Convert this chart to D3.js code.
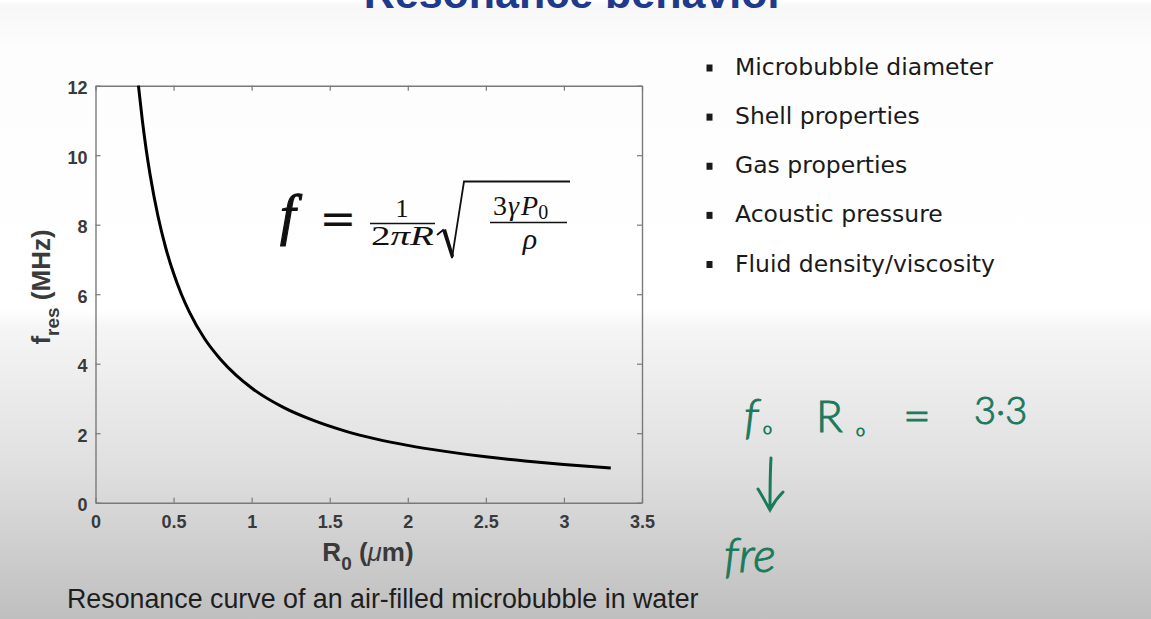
<!DOCTYPE html>
<html>
<head>
<meta charset="utf-8">
<script src="https://cdn.jsdelivr.net/npm/d3@7"></script>
<style>
  html, body { margin: 0; padding: 0; background: #ffffff; }
  svg { display: block; }
</style>
</head>
<body>
<svg id="chart" width="1151" height="619"></svg>
<script>
// ---------------- data ----------------
const xTicks = [0, 0.5, 1, 1.5, 2, 2.5, 3, 3.5];
const yTicks = [0, 2, 4, 6, 8, 10, 12];
const xTickLabels = ["0", "0.5", "1", "1.5", "2", "2.5", "3", "3.5"];
const yTickLabels = ["0", "2", "4", "6", "8", "10", "12"];
// resonance curve: R0 (um) vs f_res (MHz)
const radius = [0.275, 0.3, 0.325, 0.35, 0.4, 0.45, 0.5, 0.55, 0.6, 0.7, 0.8, 0.9, 1.0, 1.2, 1.4, 1.6, 1.8, 2.0, 2.25, 2.5, 2.75, 3.0, 3.3];
const fres   = [12.0, 11.0, 10.15, 9.43, 8.25, 7.33, 6.6, 6.0, 5.5, 4.71, 4.13, 3.67, 3.3, 2.75, 2.36, 2.06, 1.83, 1.65, 1.47, 1.32, 1.2, 1.1, 1.0];
const bullets = ["Microbubble diameter", "Shell properties", "Gas properties", "Acoustic pressure", "Fluid density/viscosity"];
const titleText = "Resonance behavior";
const captionText = "Resonance curve of an air-filled microbubble in water";

// ---------------- setup ----------------
const svg = d3.select("#chart");
const W = 1151, H = 619;

const defs = svg.append("defs");
const bg = defs.append("linearGradient").attr("id", "bg").attr("x1", 0).attr("y1", 0).attr("x2", 0).attr("y2", 1);
bg.append("stop").attr("offset", 0).attr("stop-color", "#ffffff");
bg.append("stop").attr("offset", 0.01).attr("stop-color", "#f7f7f7");
bg.append("stop").attr("offset", 0.08).attr("stop-color", "#fdfdfd");
bg.append("stop").attr("offset", 0.5).attr("stop-color", "#ffffff");
bg.append("stop").attr("offset", 0.53).attr("stop-color", "#f5f5f5");
bg.append("stop").attr("offset", 0.75).attr("stop-color", "#e0e0e0");
bg.append("stop").attr("offset", 1).attr("stop-color", "#bfbfbf");
svg.append("rect").attr("width", W).attr("height", H).attr("fill", "url(#bg)");

// title (cut off at top, as in the source)
svg.append("text")
  .attr("x", 574).attr("y", 7.5)
  .attr("text-anchor", "middle")
  .attr("font-family", "Liberation Sans, Arial, sans-serif")
  .attr("font-weight", "bold")
  .attr("font-size", 43)
  .attr("fill", "#1f3a8c")
  .text(titleText);

// ---------------- plot ----------------
const x = d3.scaleLinear().domain([0, 3.5]).range([95.5, 642]);
const y = d3.scaleLinear().domain([0, 12]).range([502.7, 85.7]);
const axisColor = "#7a7a7a";
const labelColor = "#3a3a3a";
const axFont = "Liberation Sans, Arial, sans-serif";

function styleAxis(g, hideLabels) {
  g.attr("font-size", null).attr("font-family", null);
  g.select(".domain").attr("stroke", axisColor).attr("stroke-width", 1.4);
  g.selectAll(".tick line").attr("stroke", axisColor).attr("stroke-width", 1.2);
  g.selectAll(".tick text")
    .attr("fill", labelColor)
    .attr("font-family", axFont)
    .attr("font-weight", "bold")
    .attr("font-size", 18);
  if (hideLabels) g.selectAll(".tick text").remove();
}

const gx = svg.append("g").attr("transform", `translate(0,${y(0)})`)
  .call(d3.axisBottom(x).tickValues(xTicks).tickFormat((d, i) => xTickLabels[i])
    .tickSizeInner(-5).tickSizeOuter(0).tickPadding(13));
styleAxis(gx, false);

const gxt = svg.append("g").attr("transform", `translate(0,${y(12)})`)
  .call(d3.axisTop(x).tickValues(xTicks).tickSizeInner(-5).tickSizeOuter(0));
styleAxis(gxt, true);

const gy = svg.append("g").attr("transform", `translate(${x(0)},0)`)
  .call(d3.axisLeft(y).tickValues(yTicks).tickFormat((d, i) => yTickLabels[i])
    .tickSizeInner(-5).tickSizeOuter(0).tickPadding(8));
styleAxis(gy, false);
gy.selectAll(".tick text").attr("dy", "0.45em");

const gyr = svg.append("g").attr("transform", `translate(${x(3.5)},0)`)
  .call(d3.axisRight(y).tickValues(yTicks).tickSizeInner(-5).tickSizeOuter(0));
styleAxis(gyr, true);

// curve
const pts = radius.map((r, i) => [r, fres[i]]);
svg.append("path")
  .datum(pts)
  .attr("fill", "none")
  .attr("stroke", "#000000")
  .attr("stroke-width", 3)
  .attr("d", d3.line().x(d => x(d[0])).y(d => y(d[1])).curve(d3.curveMonotoneX));

// axis labels
const xl = svg.append("text")
  .attr("x", 368).attr("y", 561)
  .attr("text-anchor", "middle")
  .attr("font-family", axFont)
  .attr("font-weight", "bold")
  .attr("font-size", 26)
  .attr("fill", labelColor);
xl.append("tspan").text("R");
xl.append("tspan").attr("font-size", 19).attr("dy", 9).text("0");
xl.append("tspan").attr("dy", -9).text(" (");
xl.append("tspan").attr("font-style", "italic").attr("font-weight", "normal").text("μ");
xl.append("tspan").text("m)");

const yl = svg.append("text")
  .attr("transform", "translate(50,287) rotate(-90)")
  .attr("text-anchor", "middle")
  .attr("font-family", axFont)
  .attr("font-weight", "bold")
  .attr("font-size", 26)
  .attr("fill", labelColor);
yl.append("tspan").text("f");
yl.append("tspan").attr("font-size", 19).attr("dy", 9).text("res");
yl.append("tspan").attr("dy", -9).text(" (MHz)");

// ---------------- formula ----------------
const serif = "Liberation Serif, Times New Roman, serif";
const fm = svg.append("g").attr("fill", "#111");
fm.append("text").attr("x", 280).attr("y", 234)
  .attr("font-family", serif).attr("font-style", "italic").attr("font-size", 56)
  .attr("stroke", "#111").attr("stroke-width", 1.2).text("f");
fm.append("text").attr("x", 338).attr("y", 234).attr("text-anchor", "middle")
  .attr("font-family", "DejaVu Serif, serif").attr("font-size", 44).text("=");
fm.append("text").attr("x", 402).attr("y", 217).attr("text-anchor", "middle")
  .attr("font-family", serif).attr("font-size", 26).text("1");
fm.append("line").attr("x1", 370).attr("x2", 435).attr("y1", 223.5).attr("y2", 223.5)
  .attr("stroke", "#111").attr("stroke-width", 1.6);
const den = fm.append("text").attr("x", 371).attr("y", 245)
  .attr("font-family", serif).attr("font-size", 27)
  .attr("textLength", 63).attr("lengthAdjust", "spacingAndGlyphs");
den.append("tspan").text("2");
den.append("tspan").attr("font-style", "italic").text("π");
den.append("tspan").attr("font-style", "italic").text("R");
fm.append("path")
  .attr("d", "M437,235 L443,230 L452,258 L464,181.5 L570,181.5")
  .attr("fill", "none").attr("stroke", "#111").attr("stroke-width", 1.8)
  .attr("stroke-linejoin", "miter");
fm.append("path")
  .attr("d", "M443,230 L452,258 L454,256 L446,229 Z").attr("fill", "#111");
const num = fm.append("text").attr("x", 493).attr("y", 214.5)
  .attr("font-family", serif).attr("font-size", 28);
num.append("tspan").text("3");
num.append("tspan").attr("font-style", "italic").attr("dx", 1).text("γ");
num.append("tspan").attr("font-style", "italic").attr("dx", 2).text("P");
num.append("tspan").attr("font-size", 20).attr("dy", 4).text("0");
fm.append("line").attr("x1", 490).attr("x2", 567).attr("y1", 222.5).attr("y2", 222.5)
  .attr("stroke", "#111").attr("stroke-width", 1.6);
fm.append("text").attr("x", 530).attr("y", 249).attr("text-anchor", "middle")
  .attr("font-family", serif).attr("font-style", "italic").attr("font-size", 30).text("ρ");

// ---------------- bullets ----------------
const bl = svg.append("g");
const by = d3.scaleLinear().domain([0, 4]).range([75, 271.5]);
bl.selectAll("rect").data(bullets).join("rect")
  .attr("x", 706.5).attr("y", (d, i) => by(i) - 10.5)
  .attr("width", 6).attr("height", 7).attr("fill", "#1a1a1a");
bl.selectAll("text").data(bullets).join("text")
  .attr("x", 735).attr("y", (d, i) => by(i))
  .attr("font-family", "DejaVu Sans, Verdana, sans-serif")
  .attr("font-size", 23.5)
  .attr("fill", "#1a1a1a")
  .text(d => d);

// ---------------- caption ----------------
svg.append("text")
  .attr("x", 67).attr("y", 608)
  .attr("font-family", "Liberation Sans, Arial, sans-serif")
  .attr("font-size", 26.8)
  .attr("fill", "#1e1e1e")
  .text(captionText);

// ---------------- handwritten annotation ----------------
const green = "#1b7a5c";
const hw = svg.append("g").attr("fill", green).attr("stroke", green).attr("stroke-width", 1)
  .attr("font-family", "Lato, Open Sans, sans-serif").attr("font-weight", 300);
hw.append("text").attr("x", 744).attr("y", 433).attr("font-size", 48).attr("font-style", "italic").text("f");
hw.append("text").attr("x", 763).attr("y", 434).attr("font-size", 16).text("o");
hw.append("text").attr("x", 816).attr("y", 432).attr("font-size", 44).text("R");
hw.append("text").attr("x", 856).attr("y", 436).attr("font-size", 16).text("o");
hw.append("text").attr("x", 903).attr("y", 432).attr("font-size", 48).text("=");
hw.append("text").attr("x", 974).attr("y", 424).attr("font-size", 38).text("3·3");
hw.append("path")
  .attr("d", "M771,458 C770,475 770,495 770,510 M758,489 C763,497 767,505 770,510 C774,502 778,497 783,492")
  .attr("fill", "none").attr("stroke", green).attr("stroke-width", 3).attr("stroke-linecap", "round");
hw.append("text").attr("x", 724).attr("y", 572).attr("font-size", 48).attr("font-style", "italic").text("fre");
</script>
</body>
</html>
